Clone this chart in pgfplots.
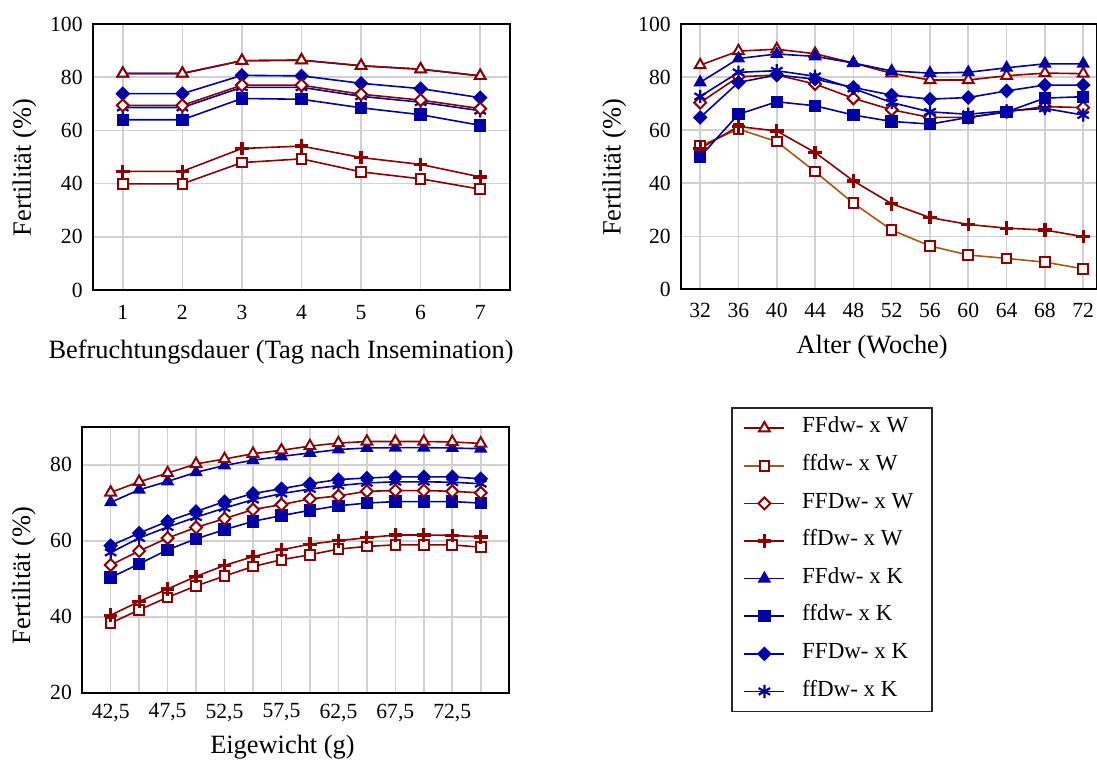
\documentclass[border=0pt]{standalone}
\usepackage{fontspec}
\setmainfont{Liberation Serif}
\usepackage{pgfplots}
\usepackage{pgfplotstable}
\pgfplotsset{compat=1.18}

\definecolor{dred}{RGB}{140,0,0}
\definecolor{dblue}{RGB}{0,0,165}
\definecolor{brn}{RGB}{160,90,20}

% Befruchtungsdauer (Tag nach Insemination)
\pgfplotstableread{
x FFdwW ffdwW FFDwW ffDwW FFdwK ffdwK FFDwK ffDwK
1 81.4 39.9 69.4 44.6 81.4 64.0 73.8 68.6
2 81.4 39.9 69.4 44.6 81.4 64.0 73.8 68.6
3 86.2 47.9 77.0 53.2 86.2 72.0 80.7 76.2
4 86.4 49.3 77.0 54.1 86.4 71.7 80.5 76.2
5 84.3 44.4 73.6 49.8 84.3 68.5 77.7 72.8
6 83.0 41.8 71.4 47.2 83.0 65.9 75.7 70.6
7 80.5 37.9 68.2 42.5 80.5 61.9 72.3 67.4
}\dataDauer

% Alter (Woche)
\pgfplotstableread{
x FFdwW ffdwW FFDwW ffDwW FFdwK ffdwK FFDwK ffDwK
32 84.5 54.1 70.4 53.1 78.0 50.0 64.8 72.7
36 89.8 60.4 80.1 61.4 87.0 66.0 78.0 81.8
40 90.5 55.7 80.8 59.7 88.7 70.7 80.8 82.4
44 88.8 44.4 77.4 51.6 87.8 69.2 79.2 80.3
48 85.3 32.5 72.0 40.9 85.3 65.7 76.1 75.7
52 81.4 22.4 67.7 32.3 82.3 63.3 73.2 70.4
56 78.9 16.4 64.8 27.1 81.5 62.3 71.7 66.9
60 78.9 13.0 64.8 24.5 81.8 64.8 72.3 66.0
64 80.5 11.7 66.9 23.1 83.5 66.9 74.8 67.3
68 81.5 10.3 68.9 22.4 85.0 72.1 77.0 68.2
72 81.3 7.8 68.5 19.9 85.0 72.6 77.0 65.7
}\dataAlter

% Eigewicht (g)
\pgfplotstableread{
x FFdwW ffdwW FFDwW ffDwW FFdwK ffdwK FFDwK ffDwK
42.5 72.7 38.3 53.6 40.4 70.1 50.3 58.7 56.9
45.0 75.5 41.8 57.3 44.0 73.4 53.9 62.0 60.7
47.5 77.8 45.1 60.7 47.3 75.6 57.6 65.1 63.6
50.0 80.2 48.1 63.5 50.6 78.0 60.5 67.7 66.2
52.5 81.5 50.7 65.8 53.5 79.8 62.9 70.3 68.6
55.0 82.9 53.2 68.2 55.8 81.2 65.1 72.4 70.8
57.5 83.8 55.0 69.5 57.6 82.2 66.6 73.7 72.4
60.0 84.9 56.3 71.0 59.1 83.1 68.0 75.0 73.6
62.5 85.7 57.8 71.8 60.0 84.0 69.2 76.1 74.5
65.0 86.1 58.5 73.0 60.8 84.4 69.9 76.5 75.2
67.5 86.1 58.9 73.2 61.5 84.5 70.3 76.8 75.5
70.0 86.1 58.9 73.2 61.5 84.5 70.3 76.8 75.5
72.5 86.0 58.9 73.0 61.4 84.4 70.3 76.8 75.4
75.0 85.6 58.3 72.6 61.0 84.2 69.9 76.3 75.0
}\dataGewicht

\pgfplotsset{
  /pgf/number format/assume math mode=true,
  every axis/.append style={
    scale only axis,
    axis line style={black, line width=1pt},
    grid=both,
    grid style={draw=black!18, line width=0.8pt},
    minor grid style={draw=black!18, line width=0.8pt},
    major tick length=0pt, minor tick length=0pt,
    tick label style={font=\fontsize{10.8}{12}\selectfont},
    yticklabel style={inner sep=0pt, xshift=-5pt},
    label style={font=\fontsize{13.2}{15}\selectfont},
    ylabel={Fertilität (\%)},
  },
  ser/.style={line width=0.8pt},
  sTW/.style={ser, dred, mark=triangle*, mark size=3.1pt,
    mark options={fill=white, line width=1pt}},
  sSW/.style={ser, dred, mark=square*, mark size=2.4pt,
    mark options={fill=white, draw=dred, line width=1pt}},
  sSWb/.style={sSW, brn},
  sDW/.style={ser, dred, mark=square*, mark size=2.1pt,
    mark options={rotate=45, fill=white, line width=1pt}},
  sPW/.style={ser, dred, mark=+, mark size=3.4pt,
    mark options={line width=1.6pt}},
  sTK/.style={ser, dblue, mark=triangle*, mark size=3.1pt,
    mark options={fill=dblue}},
  sSK/.style={ser, dblue, mark=square*, mark size=2.7pt,
    mark options={fill=dblue}},
  sDK/.style={ser, dblue, mark=square*, mark size=2.2pt,
    mark options={rotate=45, fill=dblue}},
  sAK/.style={ser, dblue, mark=asterisk, mark size=3.3pt,
    mark options={line width=1.1pt}},
}

\begin{document}
\begin{tikzpicture}
\path[use as bounding box] (0,0) rectangle (548.5pt,380pt);

% --- Befruchtungsdauer ---
\begin{axis}[
  at={(46.5pt,235pt)}, anchor=south west,
  width=208.5pt, height=133pt,
  xmin=0.5, xmax=7.5, ymin=0, ymax=100,
  xtick={1,...,7}, ytick={0,20,...,100},
  xticklabel style={inner sep=0pt, yshift=-7.5pt},
  xlabel={Befruchtungsdauer (Tag nach Insemination)},
  xlabel style={at={(axis description cs:0.451,-0.259)}, anchor=base},
  ylabel style={at={(axis description cs:-0.149,0.46)}, anchor=base},
]
\addplot[sAK] table[x=x,y=ffDwK]{\dataDauer};
\addplot[sTK] table[x=x,y=FFdwK]{\dataDauer};
\addplot[sSK] table[x=x,y=ffdwK]{\dataDauer};
\addplot[sDK] table[x=x,y=FFDwK]{\dataDauer};
\addplot[sTW] table[x=x,y=FFdwW]{\dataDauer};
\addplot[sSW] table[x=x,y=ffdwW]{\dataDauer};
\addplot[sDW] table[x=x,y=FFDwW]{\dataDauer};
\addplot[sPW] table[x=x,y=ffDwW]{\dataDauer};
\end{axis}

% --- Alter ---
\begin{axis}[
  at={(340.5pt,235.25pt)}, anchor=south west,
  width=207.8pt, height=132.75pt,
  xmin=30, xmax=73.4, ymin=0, ymax=100,
  xtick={32,36,...,72}, ytick={0,20,...,100},
  xticklabel style={inner sep=0pt, yshift=-6.8pt},
  xlabel={Alter (Woche)},
  xlabel style={at={(axis description cs:0.46,-0.24)}, anchor=base},
  ylabel style={at={(axis description cs:-0.145,0.46)}, anchor=base},
]
\addplot[sTW] table[x=x,y=FFdwW]{\dataAlter};
\addplot[sSWb] table[x=x,y=ffdwW]{\dataAlter};
\addplot[sDW] table[x=x,y=FFDwW]{\dataAlter};
\addplot[sPW] table[x=x,y=ffDwW]{\dataAlter};
\addplot[sTK] table[x=x,y=FFdwK]{\dataAlter};
\addplot[sSK] table[x=x,y=ffdwK]{\dataAlter};
\addplot[sDK] table[x=x,y=FFDwK]{\dataAlter};
\addplot[sAK] table[x=x,y=ffDwK]{\dataAlter};
\end{axis}

% --- Eigewicht ---
\begin{axis}[
  at={(41.1pt,33.65pt)}, anchor=south west,
  width=213.5pt, height=133pt,
  xmin=40, xmax=77.5, ymin=20, ymax=90,
  xtick={42.5,47.5,...,72.5}, minor xtick={45,50,...,75},
  ytick={20,40,60,80},
  xticklabel style={inner sep=0pt, yshift=-5.3pt,
    /pgf/number format/.cd, fixed, fixed zerofill, precision=1, use comma},
  xlabel={Eigewicht (g)},
  xlabel style={at={(axis description cs:0.469,-0.23)}, anchor=base},
  ylabel style={at={(axis description cs:-0.122,0.44)}, anchor=base},
  legend image code/.code={
    \draw[mark repeat=2, mark phase=2]
      plot coordinates {(0pt,0pt) (10pt,0pt) (20pt,0pt)};},
  legend style={
    at={(axis description cs:1.5187,1.073)}, anchor=north west,
    draw=black!85, line width=0.9pt, fill=white,
    font=\fontsize{11.5}{13}\selectfont,
    inner xsep=6pt, inner ysep=5.3pt,
    row sep=9.4pt, column sep=0pt,
    nodes={inner sep=0pt, text height=7pt, text depth=2.4pt},
  },
  legend cell align=left,
]
\addplot[sAK, forget plot] table[x=x,y=ffDwK]{\dataGewicht};
\addplot[sDK, forget plot] table[x=x,y=FFDwK]{\dataGewicht};
\addplot[sSK, forget plot] table[x=x,y=ffdwK]{\dataGewicht};
\addplot[sTK, forget plot] table[x=x,y=FFdwK]{\dataGewicht};
\addplot[sTW, forget plot] table[x=x,y=FFdwW]{\dataGewicht};
\addplot[sSW, forget plot] table[x=x,y=ffdwW]{\dataGewicht};
\addplot[sDW, forget plot] table[x=x,y=FFDwW]{\dataGewicht};
\addplot[sPW, forget plot] table[x=x,y=ffDwW]{\dataGewicht};

\addlegendimage{sTW}  \addlegendentry{\hspace{8.5pt}\makebox[59pt][l]{FFdw- x W}}
\addlegendimage{sSWb} \addlegendentry{\hspace{8.5pt}\makebox[59pt][l]{ffdw- x W}}
\addlegendimage{sDW}  \addlegendentry{\hspace{8.5pt}\makebox[59pt][l]{FFDw- x W}}
\addlegendimage{sPW}  \addlegendentry{\hspace{8.5pt}\makebox[59pt][l]{ffDw- x W}}
\addlegendimage{sTK}  \addlegendentry{\hspace{8.5pt}\makebox[59pt][l]{FFdw- x K}}
\addlegendimage{sSK}  \addlegendentry{\hspace{8.5pt}\makebox[59pt][l]{ffdw- x K}}
\addlegendimage{sDK}  \addlegendentry{\hspace{8.5pt}\makebox[59pt][l]{FFDw- x K}}
\addlegendimage{sAK}  \addlegendentry{\hspace{8.5pt}\makebox[59pt][l]{ffDw- x K}}
\end{axis}
\end{tikzpicture}
\end{document}
